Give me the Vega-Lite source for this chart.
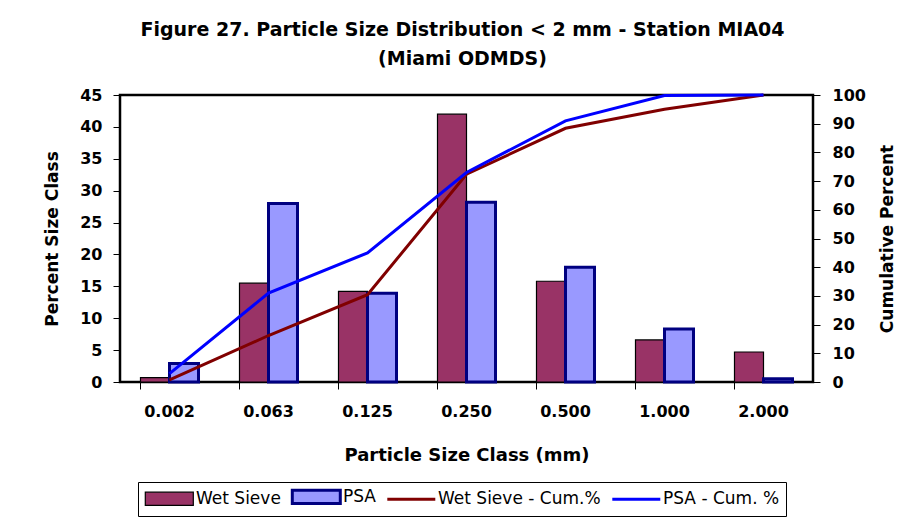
{
  "$schema": "https://vega.github.io/schema/vega-lite/v6.json",
  "width": 693,
  "height": 287,
  "autosize": {"type": "none"},
  "padding": {"left": 120, "top": 95, "right": 99, "bottom": 139},
  "background": "white",
  "config": {
    "view": {"stroke": "black", "strokeWidth": 2.5},
    "font": "DejaVu Sans",
    "axis": {
      "labelFont": "DejaVu Sans", "labelFontWeight": "bold", "labelFontSize": 16, "labelColor": "black",
      "titleFont": "DejaVu Sans", "titleFontWeight": "bold", "titleFontSize": 17, "titleColor": "black",
      "tickColor": "black", "tickSize": 7, "domain": false, "grid": false
    }
  },
  "title": {
    "text": ["Figure 27.  Particle Size Distribution < 2 mm - Station MIA04", "(Miami ODMDS)"],
    "font": "DejaVu Sans", "fontWeight": "bold", "fontSize": 19, "lineHeight": 29,
    "anchor": "middle", "offset": 18, "dx": -4, "color": "black"
  },
  "datasets": {
    "bars": [
      {"size": "0.002", "series": "Wet Sieve", "pct": 0.7},
      {"size": "0.002", "series": "PSA", "pct": 2.9},
      {"size": "0.063", "series": "Wet Sieve", "pct": 15.5},
      {"size": "0.063", "series": "PSA", "pct": 28.0},
      {"size": "0.125", "series": "Wet Sieve", "pct": 14.2},
      {"size": "0.125", "series": "PSA", "pct": 13.9},
      {"size": "0.250", "series": "Wet Sieve", "pct": 42.0},
      {"size": "0.250", "series": "PSA", "pct": 28.2},
      {"size": "0.500", "series": "Wet Sieve", "pct": 15.8},
      {"size": "0.500", "series": "PSA", "pct": 18.0},
      {"size": "1.000", "series": "Wet Sieve", "pct": 6.6},
      {"size": "1.000", "series": "PSA", "pct": 8.3},
      {"size": "2.000", "series": "Wet Sieve", "pct": 4.7},
      {"size": "2.000", "series": "PSA", "pct": 0.5}
    ],
    "cum": [
      {"size": "0.002", "series": "Wet Sieve - Cum.%", "cum": 0.7},
      {"size": "0.063", "series": "Wet Sieve - Cum.%", "cum": 16.2},
      {"size": "0.125", "series": "Wet Sieve - Cum.%", "cum": 30.4},
      {"size": "0.250", "series": "Wet Sieve - Cum.%", "cum": 72.4},
      {"size": "0.500", "series": "Wet Sieve - Cum.%", "cum": 88.4},
      {"size": "1.000", "series": "Wet Sieve - Cum.%", "cum": 95.0},
      {"size": "2.000", "series": "Wet Sieve - Cum.%", "cum": 100},
      {"size": "0.002", "series": "PSA - Cum. %", "cum": 2.9},
      {"size": "0.063", "series": "PSA - Cum. %", "cum": 31.0},
      {"size": "0.125", "series": "PSA - Cum. %", "cum": 45.0},
      {"size": "0.250", "series": "PSA - Cum. %", "cum": 73.0},
      {"size": "0.500", "series": "PSA - Cum. %", "cum": 91.0},
      {"size": "1.000", "series": "PSA - Cum. %", "cum": 99.8},
      {"size": "2.000", "series": "PSA - Cum. %", "cum": 100}
    ]
  },
  "layer": [
    {
      "data": {"name": "bars"},
      "mark": {"type": "bar"},
      "encoding": {
        "x": {
          "field": "size", "type": "nominal", "sort": null,
          "scale": {"paddingInner": 0.414, "paddingOuter": 0.207},
          "axis": {
            "title": "Particle Size Class (mm)", "labelAngle": 0, "bandPosition": 0,
            "labelPadding": 14, "titleY": 78, "titleBaseline": "alphabetic",
            "titleFontSize": 18
          }
        },
        "xOffset": {"field": "series", "type": "nominal", "sort": ["Wet Sieve", "PSA"], "scale": {"paddingInner": 0, "paddingOuter": 0}},
        "y": {
          "field": "pct", "type": "quantitative",
          "scale": {"domain": [0, 45]},
          "axis": {
            "title": "Percent Size Class", "values": [0, 5, 10, 15, 20, 25, 30, 35, 40, 45],
            "labelPadding": 11, "titleAngle": -90, "titleX": -63, "titleY": 143.5,
            "titleAlign": "center", "titleBaseline": "alphabetic"
          }
        },
        "fill": {"condition": {"test": "datum.series === 'PSA'", "value": "#9999FF"}, "value": "#993366"},
        "strokeWidth": {"condition": {"test": "datum.series === 'PSA'", "value": 3}, "value": 1.2},
        "stroke": {
          "field": "series", "type": "nominal",
          "scale": {"domain": ["Wet Sieve", "PSA", "Wet Sieve - Cum.%", "PSA - Cum. %"], "range": ["black", "#000080", "#800000", "#0000FF"]},
          "legend": {
            "title": null, "orient": "none", "legendX": 18, "legendY": 387, "direction": "horizontal",
            "columns": 4, "columnPadding": 5, "padding": 6, "strokeColor": "black", "fillColor": "white",
            "symbolSize": 576, "labelFont": "DejaVu Sans", "labelFontSize": 17, "labelColor": "black",
            "labelOffset": 35, "labelLimit": 300,
            "encode": {"symbols": {"update": {
              "shape": {"signal": "datum.value === 'Wet Sieve' || datum.value === 'PSA' ? 'M-0.6,-0.55H3.4V0.55H-0.6Z' : 'M-0.6,0H3.4'"},
              "fill": {"signal": "datum.value === 'Wet Sieve' ? '#993366' : datum.value === 'PSA' ? '#9999FF' : 'transparent'"},
              "strokeWidth": {"signal": "datum.value === 'Wet Sieve' ? 1.2 : 3"},
              "size": {"value": 576},
              "opacity": {"value": 1},
              "fillOpacity": {"value": 1},
              "strokeOpacity": {"value": 1}
            }}}
          }
        }
      }
    },
    {
      "data": {"name": "cum"},
      "mark": {"type": "line", "strokeWidth": 3},
      "encoding": {
        "x": {"field": "size", "type": "nominal", "sort": null},
        "y": {
          "field": "cum", "type": "quantitative",
          "scale": {"domain": [0, 100]},
          "axis": {
            "orient": "right", "title": "Cumulative Percent",
            "values": [0, 10, 20, 30, 40, 50, 60, 70, 80, 90, 100],
            "labelPadding": 12, "titleAngle": -90, "titleX": 79, "titleY": 143.5,
            "titleAlign": "center", "titleBaseline": "alphabetic"
          }
        },
        "stroke": {
          "field": "series", "type": "nominal",
          "scale": {"domain": ["Wet Sieve", "PSA", "Wet Sieve - Cum.%", "PSA - Cum. %"], "range": ["black", "#000080", "#800000", "#0000FF"]},
          "legend": {
            "title": null, "orient": "none", "legendX": 18, "legendY": 387, "direction": "horizontal",
            "columns": 4, "columnPadding": 5, "padding": 6, "strokeColor": "black", "fillColor": "white",
            "symbolSize": 576, "labelFont": "DejaVu Sans", "labelFontSize": 17, "labelColor": "black",
            "labelOffset": 35, "labelLimit": 300,
            "encode": {"symbols": {"update": {
              "shape": {"signal": "datum.value === 'Wet Sieve' || datum.value === 'PSA' ? 'M-0.6,-0.55H3.4V0.55H-0.6Z' : 'M-0.6,0H3.4'"},
              "fill": {"signal": "datum.value === 'Wet Sieve' ? '#993366' : datum.value === 'PSA' ? '#9999FF' : 'transparent'"},
              "strokeWidth": {"signal": "datum.value === 'Wet Sieve' ? 1.2 : 3"},
              "size": {"value": 576},
              "opacity": {"value": 1},
              "fillOpacity": {"value": 1},
              "strokeOpacity": {"value": 1}
            }}}
          }
        }
      }
    }
  ],
  "resolve": {"scale": {"y": "independent"}}
}
